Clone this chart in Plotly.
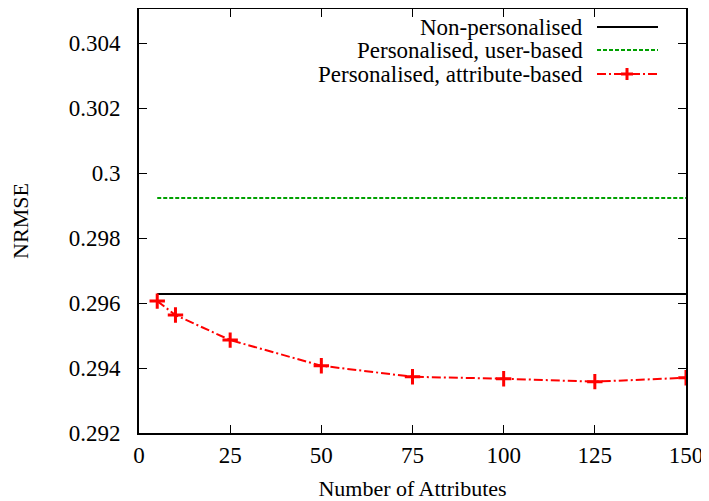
import plotly.graph_objects as go

# Data
n_attributes = [5, 10, 25, 50, 75, 100, 125, 150]
attr_based = [0.29606, 0.29563, 0.29486, 0.29407, 0.29373, 0.29367, 0.29358, 0.29370]
baseline_x = [5, 150]
non_personalised = [0.29628, 0.29628]
user_based = [0.29923, 0.29923]
series_names = ["Non-personalised", "Personalised, user-based", "Personalised, attribute-based"]
x_ticks = [0, 25, 50, 75, 100, 125, 150]
y_ticks = [0.292, 0.294, 0.296, 0.298, 0.300, 0.302, 0.304]
y_ticklabels = ["0.292", "0.294", "0.296", "0.298", "0.3", "0.302", "0.304"]

OFF = 8  # page body margin offset
W, H = 709 - OFF, 501 - OFF
L, R, T, B = 139 - OFF, 686 - OFF, 9 - OFF, 433 - OFF
FONT = "Liberation Serif, Times New Roman, Times, serif"
FS = 23

fig = go.Figure()
fig.add_trace(go.Scatter(x=baseline_x, y=non_personalised, mode="lines",
                         line=dict(color="black", width=2), name=series_names[0], showlegend=False))
fig.add_trace(go.Scatter(x=baseline_x, y=user_based, mode="lines",
                         line=dict(color="#00a000", width=2, dash="4px,2px"), name=series_names[1], showlegend=False))
fig.add_trace(go.Scatter(x=n_attributes, y=attr_based, mode="lines+markers",
                         line=dict(color="red", width=2, dash="9px,3px,2px,3px"),
                         marker=dict(symbol="cross-thin", size=11, line=dict(color="red", width=3)),
                         name=series_names[2], showlegend=False))

def px(x):
    return (x - OFF - L) / (R - L)

def py(y):
    return (B - (y - OFF)) / (B - T)

shapes = []
annotations = []
legend_rows = [(27, "black", "solid"), (50, "#00a000", "4px,2px"), (74, "red", "9px,3px,2px,3px")]
for (yy, col, dash), name in zip(legend_rows, series_names):
    shapes.append(dict(type="line", xref="paper", yref="paper", x0=px(597), x1=px(658),
                       y0=py(yy), y1=py(yy), line=dict(color=col, width=2, dash=dash)))
    annotations.append(dict(text=name, xref="paper", yref="paper", x=px(585), y=py(yy),
                            xanchor="right", yanchor="middle", showarrow=False,
                            font=dict(family=FONT, size=FS, color="black")))
# plus marker in legend sample
cx, cy = 627, 74
shapes.append(dict(type="line", xref="paper", yref="paper", x0=px(cx - 6), x1=px(cx + 6),
                   y0=py(cy), y1=py(cy), line=dict(color="red", width=3)))
shapes.append(dict(type="line", xref="paper", yref="paper", x0=px(cx), x1=px(cx),
                   y0=py(cy - 6), y1=py(cy + 6), line=dict(color="red", width=3)))

fig.update_layout(
    width=W, height=H,
    margin=dict(l=L, r=W - R, t=T, b=H - B, autoexpand=False),
    plot_bgcolor="white", paper_bgcolor="white",
    font=dict(family=FONT, size=FS, color="black"),
    shapes=shapes, annotations=annotations,
    xaxis=dict(range=[0, 150], tickvals=x_ticks, ticks="inside", ticklen=8, tickwidth=1,
               tickcolor="black", showline=True, linecolor="black", linewidth=2, mirror="ticks",
               showgrid=False, zeroline=False, ticklabelstandoff=0, automargin=False,
               title=dict(text="Number of Attributes", standoff=15, font=dict(size=22)),
               tickfont=dict(size=FS)),
    yaxis=dict(range=[0.292, 0.30505], tickvals=y_ticks, ticktext=y_ticklabels, ticks="inside",
               ticklen=8, tickwidth=1, tickcolor="black", showline=True, linecolor="black",
               linewidth=2, mirror="ticks", showgrid=False, zeroline=False, ticklabelstandoff=12,
               automargin=False,
               title=dict(text="NRMSE", standoff=38, font=dict(size=22)),
               tickfont=dict(size=FS)),
)

fig.write_html("out.html")
